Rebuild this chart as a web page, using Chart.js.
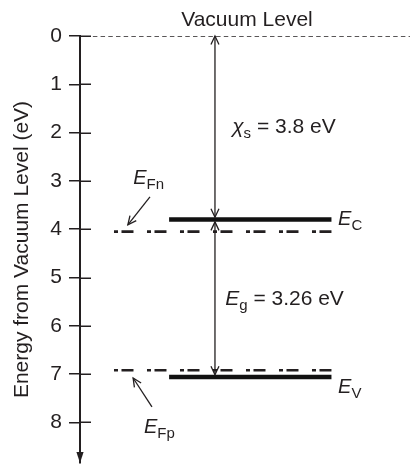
<!DOCTYPE html>
<html>
<head>
<meta charset="utf-8">
<script src="https://cdn.jsdelivr.net/npm/chart.js@4.4.1/dist/chart.umd.min.js"></script>
<style>
  html, body { margin: 0; padding: 0; background: #fff; }
</style>
</head>
<body>
<canvas id="bands" width="410" height="465"></canvas>
<script>
// energies measured downward from the vacuum level, in eV
const yTicks = [0, 1, 2, 3, 4, 5, 6, 7, 8];
const chiS = 3.8;          // electron affinity
const eGap = 3.26;         // band gap
const vacuumLevel = [0];
const bandEdges = [chiS, chiS + eGap];   // E_C, E_V
const quasiFermi = [4.05, 6.92];         // E_Fn, E_Fp

// horizontal layout in arbitrary units (x runs 0..10)
const X_MAX = 10;
const Y_MAX = 8.84;
const AXIS_WIDTH = 80;
const vacuumSpan = [0.39, 10];
const bandSpan = [2.7, 7.62];
const fermiSpan = [1.03, 7.62];
const arrowX = 4.09;

const INK = '#231f20';
const FONT = '"Liberation Sans", Arial, sans-serif';

function hline(y, span, extra) {
  return Object.assign({
    data: [{ x: span[0], y: y }, { x: span[1], y: y }],
    borderColor: INK,
    pointRadius: 0,
    borderCapStyle: 'butt',
    fill: false
  }, extra);
}

const datasets = [
  hline(vacuumLevel[0], vacuumSpan, { borderWidth: 1.3, borderDash: [4.5, 3.2] }),
  hline(bandEdges[0], bandSpan, { borderWidth: 4.5, borderColor: '#111' }),
  hline(bandEdges[1], bandSpan, { borderWidth: 4.5, borderColor: '#111' }),
  hline(quasiFermi[0], fermiSpan, { borderWidth: 2.6, borderDash: [4, 3.5, 12, 13.5] }),
  hline(quasiFermi[1], fermiSpan, { borderWidth: 2.6, borderDash: [4, 3.5, 12, 13.5] })
];

// text labels: runs of [text, style] where style '' normal, 'i' italic, 's' subscript
const notes = [
  { runs: [['Vacuum Level', '']], x: 5.06, y: -0.21, align: 'center' },
  { runs: [['χ', 'i'], ['s', 's'], [' = ' + chiS + ' eV', '']], x: 4.61, y: 2.01 },
  { runs: [['E', 'i'], ['g', 's'], [' = ' + eGap + ' eV', '']], x: 4.40, y: 5.57 },
  { runs: [['E', 'I'], ['C', 's']], x: 7.82, y: 3.91 },
  { runs: [['E', 'I'], ['V', 's']], x: 7.82, y: 7.39 },
  { runs: [['E', 'I'], ['Fn', 's']], x: 1.61, y: 3.06 },
  { runs: [['E', 'I'], ['Fp', 's']], x: 1.94, y: 8.22 }
];

// pointer arrows from a label to its level: [x0, y0, x1, y1], head at the second point
const pointers = [
  [2.12, 3.33, 1.45, 3.91],
  [2.18, 7.68, 1.61, 7.08]
];

function runFont(style) {
  if (style === 'i') return 'italic 21px ' + FONT;
  if (style === 'I') return 'italic 20px ' + FONT;
  if (style === 's') return '15px ' + FONT;
  return '21px ' + FONT;
}

function drawRuns(ctx, x, y, runs, align) {
  let total = 0;
  runs.forEach(r => { ctx.font = runFont(r[1]); total += ctx.measureText(r[0]).width; });
  let cx = align === 'center' ? x - total / 2 : x;
  ctx.textBaseline = 'alphabetic';
  ctx.textAlign = 'left';
  runs.forEach(r => {
    ctx.font = runFont(r[1]);
    ctx.fillText(r[0], cx, r[1] === 's' ? y + 5 : y);
    cx += ctx.measureText(r[0]).width;
  });
}

function openHead(ctx, tx, ty, ang, len, half) {
  const bx = tx - Math.cos(ang) * len, by = ty - Math.sin(ang) * len;
  const nx = -Math.sin(ang) * half, ny = Math.cos(ang) * half;
  ctx.beginPath();
  ctx.moveTo(bx + nx, by + ny);
  ctx.lineTo(tx, ty);
  ctx.lineTo(bx - nx, by - ny);
  ctx.stroke();
}

function doubleArrow(ctx, x, yTop, yBot) {
  ctx.beginPath();
  ctx.moveTo(x, yTop);
  ctx.lineTo(x, yBot);
  ctx.stroke();
  openHead(ctx, x, yTop, -Math.PI / 2, 8.5, 4);
  openHead(ctx, x, yBot, Math.PI / 2, 8.5, 4);
}

const bandDecor = {
  id: 'bandDecor',
  afterDatasetsDraw(chart) {
    const { ctx, chartArea, scales } = chart;
    const sx = scales.x, sy = scales.y;
    ctx.save();
    ctx.strokeStyle = INK;
    ctx.fillStyle = INK;

    // tick marks continue to the right of the axis line
    ctx.lineWidth = 1.5;
    yTicks.forEach(v => {
      const py = Math.round(sy.getPixelForValue(v)) + 0.25;
      ctx.beginPath();
      ctx.moveTo(chartArea.left, py);
      ctx.lineTo(chartArea.left + 11, py);
      ctx.stroke();
    });

    // arrowhead closing the energy axis
    const ax = chartArea.left, ay = sy.getPixelForValue(Y_MAX);
    ctx.beginPath();
    ctx.moveTo(ax, ay);
    ctx.lineTo(ax - 3.6, ay - 11);
    ctx.lineTo(ax + 3.6, ay - 11);
    ctx.closePath();
    ctx.fill();

    // affinity and gap arrows, stopping at the edges of the thick band lines
    ctx.lineWidth = 1.3;
    const px = sx.getPixelForValue(arrowX);
    const y0 = sy.getPixelForValue(vacuumLevel[0]);
    const yc = sy.getPixelForValue(bandEdges[0]);
    const yv = sy.getPixelForValue(bandEdges[1]);
    doubleArrow(ctx, px, y0, yc - 2.3);
    doubleArrow(ctx, px, yc + 2.3, yv - 2.3);

    // pointers from the quasi-Fermi labels
    pointers.forEach(p => {
      const x0 = sx.getPixelForValue(p[0]), yA = sy.getPixelForValue(p[1]);
      const x1 = sx.getPixelForValue(p[2]), yB = sy.getPixelForValue(p[3]);
      ctx.beginPath();
      ctx.moveTo(x0, yA);
      ctx.lineTo(x1, yB);
      ctx.stroke();
      openHead(ctx, x1, yB, Math.atan2(yB - yA, x1 - x0), 8.5, 4);
    });

    notes.forEach(n => {
      drawRuns(ctx, sx.getPixelForValue(n.x), sy.getPixelForValue(n.y), n.runs, n.align);
    });
    ctx.restore();
  }
};

new Chart(document.getElementById('bands'), {
  type: 'line',
  data: { datasets: datasets },
  options: {
    responsive: false,
    devicePixelRatio: 1,
    animation: false,
    parsing: false,
    layout: { padding: { top: 36, right: 0, bottom: 2, left: 0 } },
    plugins: { legend: { display: false }, tooltip: { enabled: false } },
    scales: {
      x: { type: 'linear', min: 0, max: X_MAX, display: false },
      y: {
        type: 'linear',
        reverse: true,
        min: 0,
        max: Y_MAX,
        afterBuildTicks: s => { s.ticks = yTicks.map(v => ({ value: v })); },
        // fixed axis width; the last tick sits well above the end of the axis
        afterFit: s => { s.width = AXIS_WIDTH; s.paddingTop = 0; s.paddingBottom = 0; },
        grid: { drawOnChartArea: false, drawTicks: true, tickLength: 11, color: INK, lineWidth: 1.5 },
        border: { display: true, color: INK, width: 2 },
        ticks: { color: INK, padding: 7, font: { family: FONT, size: 21 } },
        title: {
          display: true,
          text: 'Energy from Vacuum Level (eV)',
          color: INK,
          font: { family: FONT, size: 21 },
          padding: { top: 10, bottom: 15 }
        }
      }
    }
  },
  plugins: [bandDecor]
});
</script>
</body>
</html>
